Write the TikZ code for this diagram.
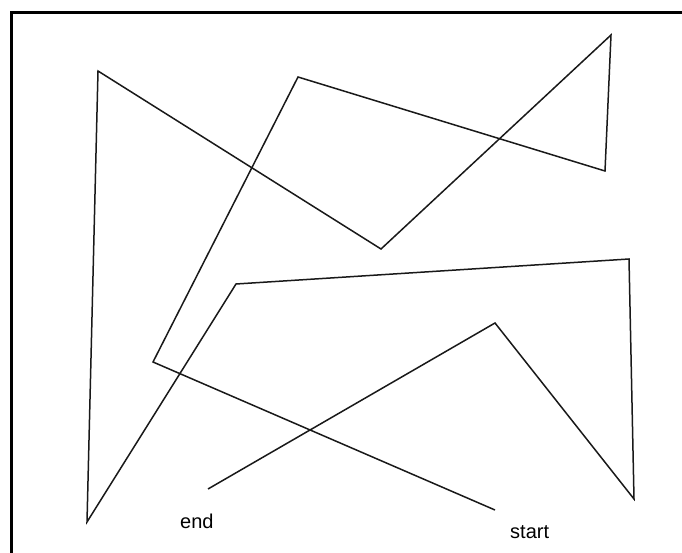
\documentclass[tikz,border=0pt]{standalone}
\usepackage{fontspec}
\setmainfont{Liberation Sans}
\begin{document}
\begin{tikzpicture}[x=1pt,y=-1pt,
  frame/.style={line width=2.2pt,black},
  route/.style={line width=1.5pt,black!90,line join=miter},
  lbl/.style={font=\fontsize{20}{22}\selectfont,inner sep=0pt,anchor=base west}]
\useasboundingbox (0,0) rectangle (682,553);
\fill[white] (0,0) rectangle (682,553);
% frame
\coordinate (fbl) at (11.5,553);
\coordinate (ftl) at (11.5,12.5);
\coordinate (ftr) at (682,12.5);
\draw[frame] (fbl) -- (ftl) -- (ftr);
% vertices
\coordinate (p0) at (495,510);
\coordinate (p1) at (153,362);
\coordinate (p2) at (298,77);
\coordinate (p3) at (605,171);
\coordinate (p4) at (611,35);
\coordinate (p5) at (381,249);
\coordinate (p6) at (98,71);
\coordinate (p7) at (87,522);
\coordinate (p8) at (236,284);
\coordinate (p9) at (629,259);
\coordinate (p10) at (634,499);
\coordinate (p11) at (495,323);
\coordinate (p12) at (208,489);
\draw[route] (p0) -- (p1) -- (p2) -- (p3) -- (p4) -- (p5) -- (p6) -- (p7)
  -- (p8) -- (p9) -- (p10) -- (p11) -- (p12);
\node[lbl] (endl) at (180,528) {end};
\node[lbl] (startl) at (510,538) {start};
\end{tikzpicture}
\end{document}
